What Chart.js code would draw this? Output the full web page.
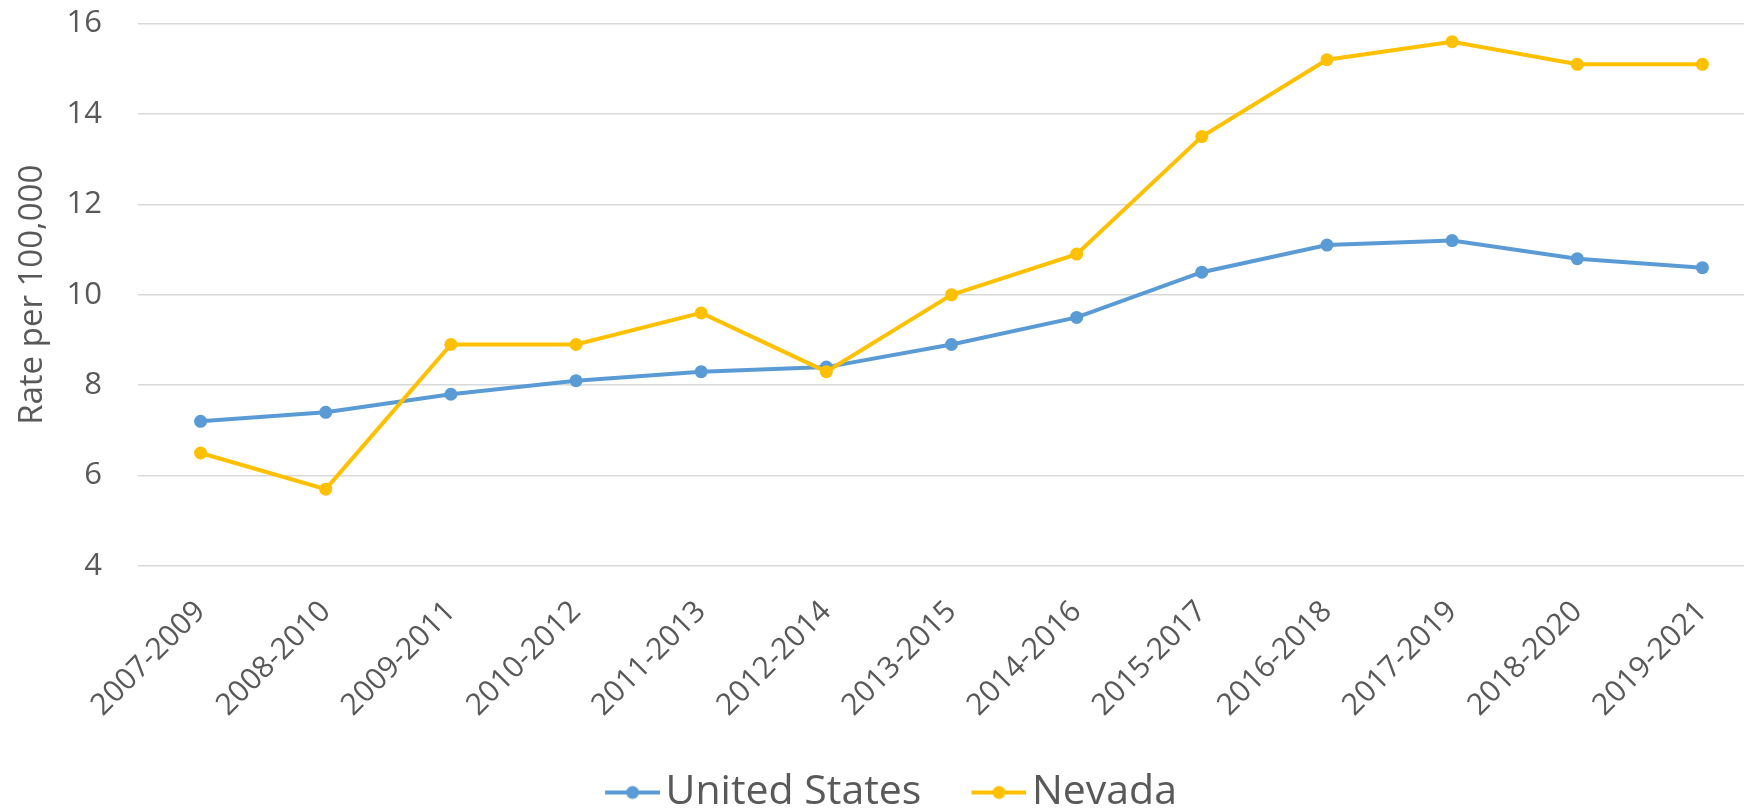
<!DOCTYPE html>
<html>
<head>
<meta charset="utf-8">
<title>Rate per 100,000</title>
<script src="https://cdn.jsdelivr.net/npm/chart.js@4.4.1/dist/chart.umd.min.js"></script>
<style>
  html, body { margin: 0; padding: 0; background: #fff; overflow: hidden; }
  /* plot runs slightly past the right edge of the window */
  #wrap { position: absolute; left: 0; top: -31px; width: 1778px; height: 854px; }
</style>
</head>
<body>
<div id="wrap"><canvas id="rateChart"></canvas></div>
<script>
const periods = ['2007-2009', '2008-2010', '2009-2011', '2010-2012', '2011-2013', '2012-2014', '2013-2015',
  '2014-2016', '2015-2017', '2016-2018', '2017-2019', '2018-2020', '2019-2021'];
const unitedStates = [7.2, 7.4, 7.8, 8.1, 8.3, 8.4, 8.9, 9.5, 10.5, 11.1, 11.2, 10.8, 10.6];
const nevada = [6.5, 5.7, 8.9, 8.9, 9.6, 8.3, 10.0, 10.9, 13.5, 15.2, 15.6, 15.1, 15.1];
const yTicks = [4, 6, 8, 10, 12, 14, 16];

const FONT = "'Open Sans', 'Noto Sans', sans-serif";
const TEXT = '#595959';
const BLUE = '#5b9bd5';
const GOLD = '#ffc000';

// line-with-dot swatch for the legend
function legendMarker(color) {
  const c = document.createElement('canvas');
  c.width = 70;
  c.height = 16;
  const g = c.getContext('2d');
  g.strokeStyle = color;
  g.lineWidth = 4;
  g.beginPath();
  g.moveTo(15, 8);
  g.lineTo(70, 8);
  g.stroke();
  g.fillStyle = color;
  g.beginPath();
  g.arc(42.5, 8, 6.5, 0, Math.PI * 2);
  g.fill();
  return c;
}

const markers = [legendMarker(BLUE), legendMarker(GOLD)];

new Chart(document.getElementById('rateChart'), {
  type: 'line',
  data: {
    labels: periods,
    datasets: [{
      label: 'United States',
      data: unitedStates,
      borderColor: BLUE,
      backgroundColor: BLUE,
      borderWidth: 4,
      pointRadius: 6.5,
      pointBorderWidth: 0,
      tension: 0,
      order: 1
    },
    {
      label: 'Nevada',
      data: nevada,
      borderColor: GOLD,
      backgroundColor: GOLD,
      borderWidth: 4,
      pointRadius: 6.5,
      pointBorderWidth: 0,
      tension: 0,
      order: 0  // drawn over the US line
    }]
  },
  options: {
    responsive: true,
    maintainAspectRatio: false,
    animation: false,
    layout: { padding: { top: 0, right: 13, bottom: 0, left: 17 } },
    plugins: {
      tooltip: { enabled: false },
      legend: {
        position: 'bottom',
        labels: {
          usePointStyle: true,
          pointStyleWidth: 40,
          boxHeight: 16,
          padding: 50,
          color: TEXT,
          font: { family: FONT, size: 41 },
          // keep dataset order (not draw order) in the legend
          generateLabels: c => c.data.datasets.map((ds, i) => ({
            text: ds.label,
            pointStyle: markers[i],
            fillStyle: ds.borderColor,
            strokeStyle: ds.borderColor,
            fontColor: TEXT,
            lineWidth: 0,
            hidden: false,
            datasetIndex: i
          }))
        }
      }
    },
    scales: {
      x: {
        offset: true,
        grid: { display: false },
        border: { display: false },
        ticks: {
          autoSkip: false,
          minRotation: 45,
          maxRotation: 45,
          padding: 20,
          color: TEXT,
          font: { family: FONT, size: 30 }
        },
        afterFit: s => { s.height = 156; }
      },
      y: {
        min: yTicks[0],
        max: yTicks[yTicks.length - 1],
        ticks: {
          stepSize: yTicks[1] - yTicks[0],
          padding: 36,
          color: TEXT,
          font: { family: FONT, size: 31 }
        },
        grid: { color: '#d9d9d9', lineWidth: 1.5, drawTicks: false },
        border: { display: false },
        title: {
          display: true,
          text: 'Rate per 100,000',
          color: TEXT,
          font: { family: FONT, size: 33 },
          padding: { top: -4, bottom: 0 }
        },
        afterFit: s => { s.width = 121; }
      }
    }
  }
});
</script>
</body>
</html>
